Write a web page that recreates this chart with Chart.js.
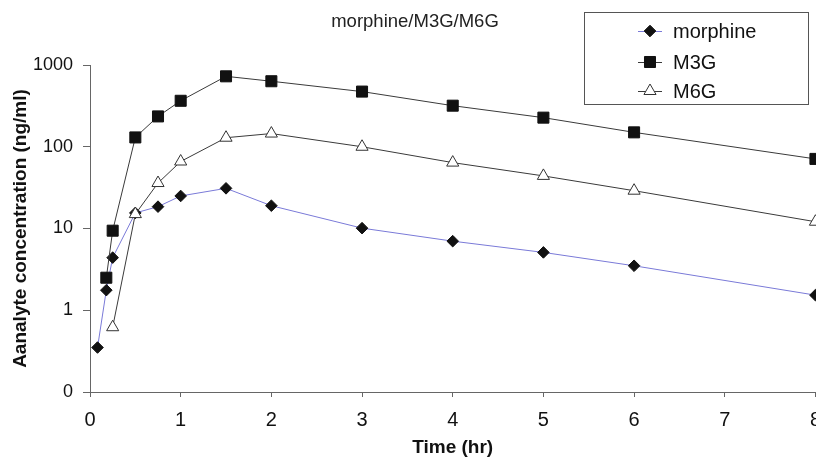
<!DOCTYPE html>
<html>
<head>
<meta charset="utf-8">
<script src="https://cdn.jsdelivr.net/npm/chart.js@4.4.1/dist/chart.umd.min.js"></script>
<style>
html,body{margin:0;padding:0;background:#fff;width:816px;height:458px;overflow:hidden;}
canvas{display:block;}
</style>
</head>
<body>
<canvas id="c" width="832" height="458"></canvas>
<script>
// ---- data ----
const timesMorphine = [0.083, 0.18, 0.25, 0.5, 0.75, 1, 1.5, 2, 3, 4, 5, 6, 8];
const morphine      = [0.35, 1.76, 4.4, 15.5, 18.5, 25, 31, 19, 10.1, 7.0, 5.1, 3.5, 1.53];
const timesM3G      = [0.18, 0.25, 0.5, 0.75, 1, 1.5, 2, 3, 4, 5, 6, 8];
const m3g           = [2.5, 9.4, 130, 235, 365, 727, 633, 473, 318, 227, 150, 71];
const timesM6G      = [0.25, 0.5, 0.75, 1, 1.5, 2, 3, 4, 5, 6, 8];
const m6g           = [0.62, 15, 36, 66, 129, 145, 100, 64, 44, 29, 12.1];
const yTickValues   = [0.1, 1, 10, 100, 1000];
const yTickLabels   = ['0', '1', '10', '100', '1000'];
const seriesNames   = ['morphine', 'M3G', 'M6G'];
const titleText     = 'morphine/M3G/M6G';
const xTitle        = 'Time (hr)';
const yTitle        = 'Aanalyte concentration (ng/ml)';

const FONT = '"Liberation Sans", Arial, Helvetica, sans-serif';
const pts = (xs, ys) => xs.map((x, i) => ({x: x, y: ys[i]}));

const styles = [
  {line: '#7a7ad8', fill: '#111111', border: '#111111', shape: 'rectRot', r: 5.8},
  {line: '#3a3a3a', fill: '#111111', border: '#111111', shape: 'rect', r: 7.8},
  {line: '#3a3a3a', fill: '#ffffff', border: '#333333', shape: 'triangle', r: 7}
];

function drawMarker(ctx, shape, x, y, r, fill, stroke) {
  ctx.save();
  ctx.beginPath();
  if (shape === 'rectRot') {
    ctx.moveTo(x, y - r); ctx.lineTo(x + r, y); ctx.lineTo(x, y + r); ctx.lineTo(x - r, y);
  } else if (shape === 'rect') {
    const s = r * Math.SQRT1_2;
    ctx.rect(x - s, y - s, 2 * s, 2 * s);
  } else {
    ctx.moveTo(x, y - r);
    ctx.lineTo(x + r * Math.sin(2 * Math.PI / 3), y - r * Math.cos(2 * Math.PI / 3));
    ctx.lineTo(x + r * Math.sin(4 * Math.PI / 3), y - r * Math.cos(4 * Math.PI / 3));
  }
  ctx.closePath();
  ctx.fillStyle = fill; ctx.fill();
  ctx.lineWidth = 1; ctx.strokeStyle = stroke; ctx.stroke();
  ctx.restore();
}

const decorPlugin = {
  id: 'decor',
  afterDraw(chart) {
    const ctx = chart.ctx;
    ctx.save();
    // title
    ctx.fillStyle = '#222';
    ctx.font = '18.5px ' + FONT;
    ctx.textAlign = 'center';
    ctx.textBaseline = 'middle';
    ctx.fillText(titleText, 415, 22);
    // legend box
    ctx.strokeStyle = '#555';
    ctx.lineWidth = 1;
    ctx.strokeRect(584.5, 12.5, 224, 92);
    const ys = [31, 62, 91];
    ctx.font = '20px ' + FONT;
    ctx.textAlign = 'left';
    seriesNames.forEach((n, i) => {
      const st = styles[i];
      ctx.beginPath();
      ctx.strokeStyle = st.line;
      ctx.lineWidth = 1;
      ctx.moveTo(638, ys[i] + 0.5); ctx.lineTo(662, ys[i] + 0.5);
      ctx.stroke();
      drawMarker(ctx, st.shape, 650, ys[i], st.r, st.fill, st.border);
      ctx.fillStyle = '#111';
      ctx.fillText(n, 673, ys[i] + 1);
    });
    ctx.restore();
  }
};

const dataSets = [pts(timesMorphine, morphine), pts(timesM3G, m3g), pts(timesM6G, m6g)];

new Chart(document.getElementById('c'), {
  type: 'line',
  data: {
    datasets: dataSets.map((d, i) => ({
      label: seriesNames[i],
      data: d,
      borderColor: styles[i].line,
      borderWidth: 1,
      pointStyle: styles[i].shape,
      pointRadius: styles[i].r,
      pointBackgroundColor: styles[i].fill,
      pointBorderColor: styles[i].border,
      pointBorderWidth: 1,
      tension: 0,
      fill: false,
      clip: false
    })).reverse()
  },
  options: {
    responsive: false,
    animation: false,
    devicePixelRatio: 1,
    layout: {padding: {top: 65, left: 0, right: 0, bottom: 0}},
    plugins: {legend: {display: false}, title: {display: false}, tooltip: {enabled: false}},
    scales: {
      x: {
        type: 'linear',
        min: 0, max: 8,
        ticks: {stepSize: 1, color: '#111', font: {family: FONT, size: 20}, padding: 11, maxRotation: 0},
        grid: {display: true, drawOnChartArea: false, drawTicks: true, tickLength: 5, color: '#666'},
        border: {display: true, color: '#666', width: 1},
        title: {display: true, text: xTitle, color: '#111', font: {family: FONT, size: 19, weight: 'bold', lineHeight: 1}, padding: {top: 0, bottom: 0.5}},
        afterFit(s) { s.height = 66; }
      },
      y: {
        type: 'logarithmic',
        min: 0.1, max: 1000,
        afterBuildTicks(s) { s.ticks = yTickValues.map(v => ({value: v, major: true})); },
        ticks: {
          color: '#111', font: {family: FONT, size: 18}, padding: 10,
          callback(v) { const i = yTickValues.indexOf(v); return i >= 0 ? yTickLabels[i] : ''; }
        },
        grid: {display: true, drawOnChartArea: false, drawTicks: true, tickLength: 7, color: '#666'},
        border: {display: true, color: '#666', width: 1},
        title: {display: true, text: yTitle, color: '#111', font: {family: FONT, size: 19, weight: 'bold', lineHeight: 1.2}, padding: {top: 9, bottom: 0}},
        afterFit(s) { s.width = 90; s.paddingTop = 0; s.paddingBottom = 0; }
      }
    }
  },
  plugins: [decorPlugin]
});
</script>
</body>
</html>
